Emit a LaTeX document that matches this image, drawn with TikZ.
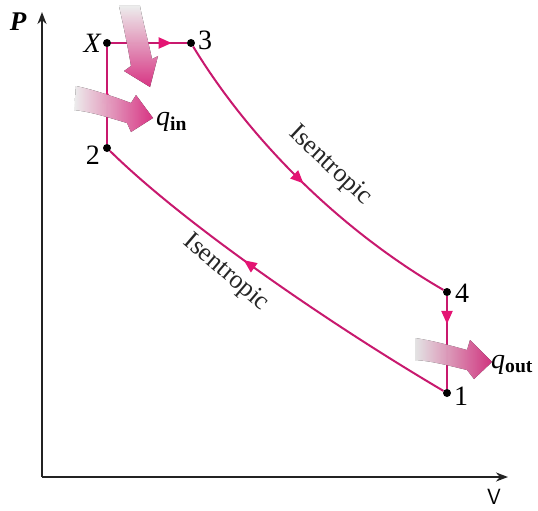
\documentclass[tikz,border=0pt]{standalone}
\usepackage{fontspec}
\setmainfont{Liberation Serif}
\usetikzlibrary{arrows.meta,decorations.markings}
\definecolor{cyc}{RGB}{200,25,110}
\definecolor{tipc}{RGB}{228,20,115}
\definecolor{heat}{RGB}{232,55,140}
\definecolor{axc}{RGB}{35,35,35}
\begin{document}
\begin{tikzpicture}[x=1pt,y=-1pt,
  dot/.style={circle,fill=black,inner sep=0pt,minimum size=8pt},
  cycline/.style={draw=cyc,line width=2pt},
  midarrow/.style={postaction={decorate},decoration={markings,
     mark=at position #1 with {\arrow{Triangle[length=13pt,width=11pt,fill=tipc,color=tipc]}}}},
  axis/.style={draw=axc,line width=2.4pt,-{Stealth[length=12pt,width=9pt]}},
  lbl/.style={font=\fontsize{28}{32}\selectfont,inner sep=1pt},
  isen/.style={font=\fontsize{26}{30}\selectfont,text=black!85,inner sep=0pt},
  heatarrow/.style={draw=none}
]
\useasboundingbox (0,0) rectangle (538,511);
% axes
\coordinate (O) at (42,477);
\coordinate (ytop) at (42,12);
\coordinate (xend) at (508,477);
\draw[axis] (O) -- (ytop);
\draw[axis] (O) -- (xend);
\node[lbl,font=\fontsize{27}{30}\selectfont\bfseries\itshape] (Plab) at (18,22) {P};
\node[lbl,font=\fontsize{22}{26}\selectfont\sffamily] (Vlab) at (494,497) {V};
% state points
\node[dot] (X) at (107,43) {};
\node[dot] (p3) at (191,43) {};
\node[dot] (p2) at (107,148) {};
\node[dot] (p4) at (447,292) {};
\node[dot] (p1) at (447,393) {};
\node[lbl,font=\fontsize{28}{32}\selectfont\itshape,anchor=east] (Xlab) at (102,43) {X};
\node[lbl,anchor=west] (l3) at (197,40) {3};
\node[lbl,anchor=east] (l2) at (101,155) {2};
\node[lbl,anchor=west] (l4) at (454,293) {4};
\node[lbl,anchor=west] (l1) at (453,396) {1};
% cycle
\draw[cycline,midarrow=0.55] (p2) -- (X);
\draw[cycline,midarrow=0.8] (X) -- (p3);
\draw[cycline,midarrow=0.5] (p3) .. controls (250,140) and (340,230) .. (p4);
\draw[cycline,midarrow=0.3] (p4) -- (p1);
\draw[cycline,midarrow=0.58] (p1) .. controls (320,318) and (180,220) .. (p2);
% labels
\node[isen,rotate=-43] (is1) at (330,166) {Isentropic};
\node[isen,rotate=-40.5] (is2) at (226,273) {Isentropic};
% heat arrows
\fill[heatarrow,top color=white,bottom color=heat,opacity=0.92]
  (119,6) .. controls (124,28) and (128,48) .. (131,66)
  -- (124,71) -- (150,87) -- (158,56) -- (152,59)
  .. controls (148,40) and (143,22) .. (140,6) -- cycle;
\fill[heatarrow,left color=white,right color=heat,opacity=0.92]
  (76,86) .. controls (95,90) and (115,97) .. (131,103)
  -- (136,95) -- (153,118) -- (131,132) -- (127,123)
  .. controls (110,118) and (92,112) .. (74,110) -- cycle;
\fill[heatarrow,left color=white,right color=heat,opacity=0.88]
  (415,338) .. controls (435,341) and (452,346) .. (467,350)
  -- (470,340) -- (492,362) -- (474,379) -- (467,370)
  .. controls (450,366) and (432,361) .. (415,360) -- cycle;
\node[lbl,anchor=west] (qin) at (155,122) {\textit{q}\textsubscript{\bfseries in}};
\node[lbl,anchor=west] (qout) at (490,365) {\textit{q}\textsubscript{\bfseries out}};
\end{tikzpicture}
\end{document}
